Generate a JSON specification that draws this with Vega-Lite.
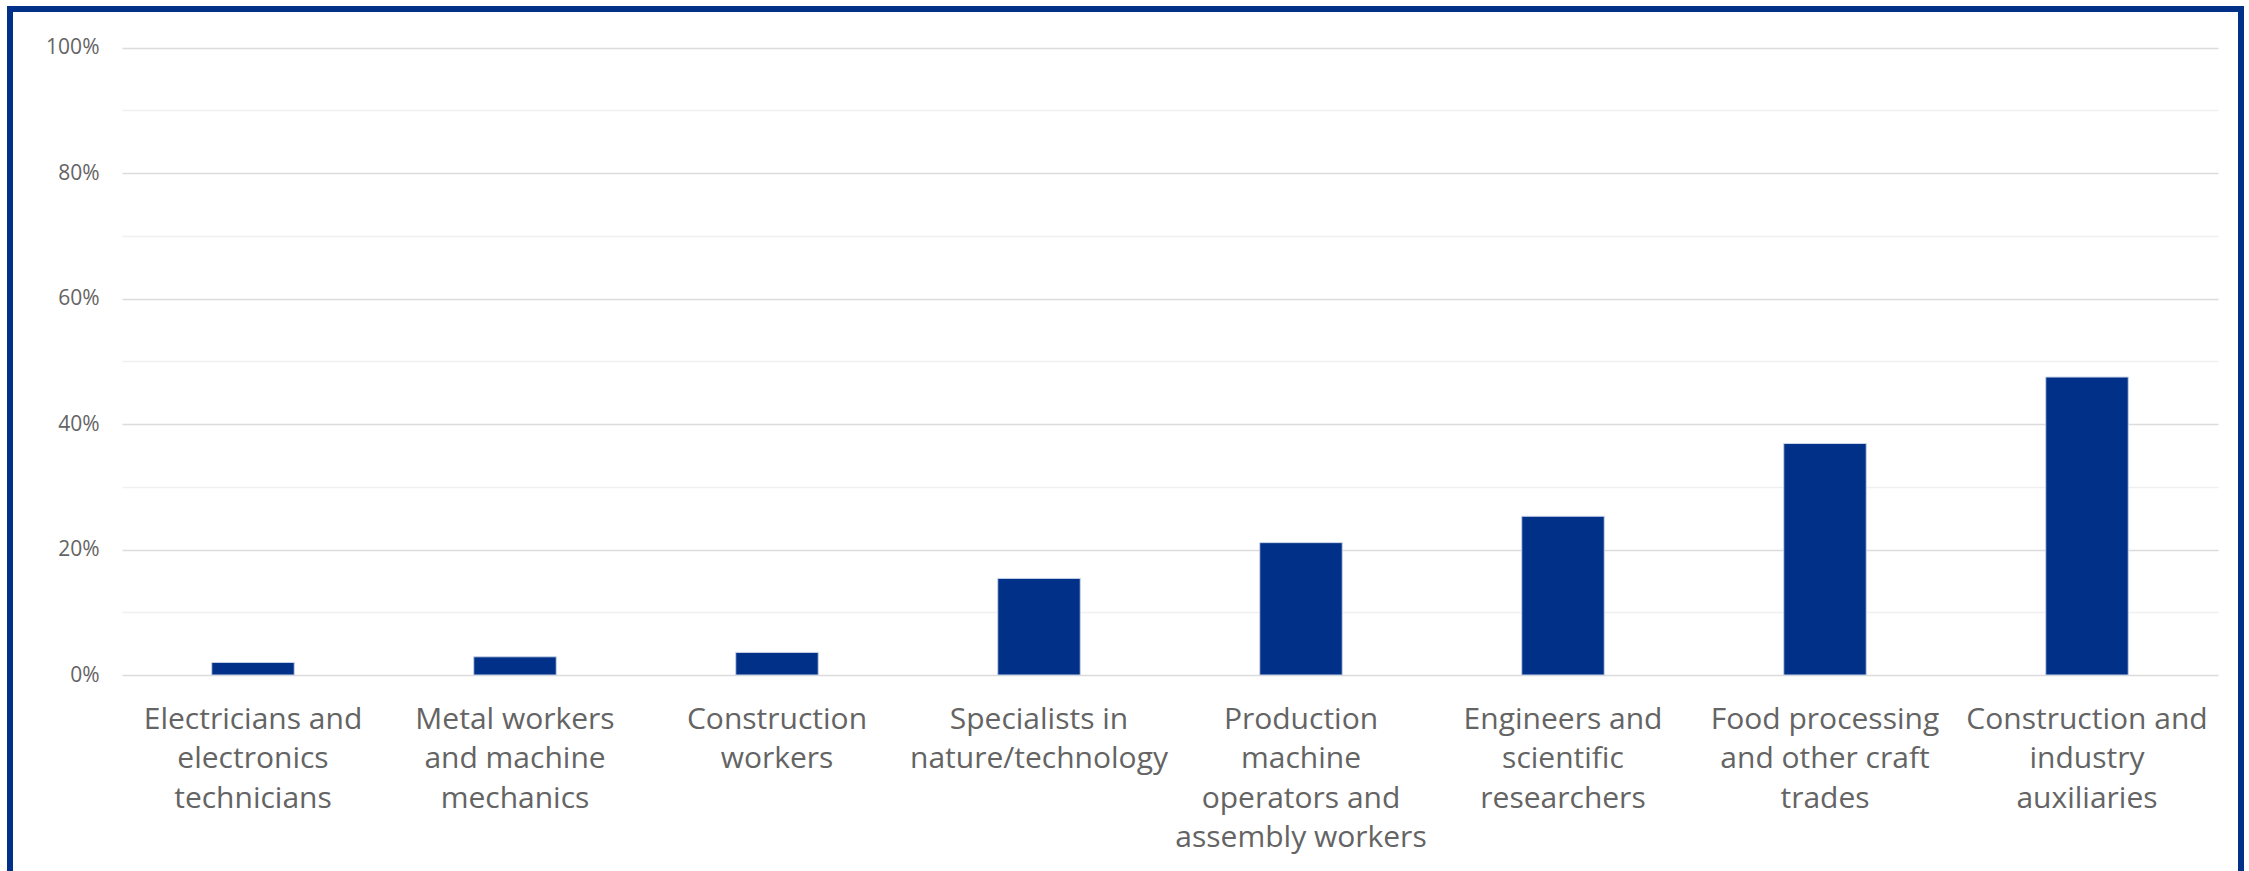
{
  "$schema": "https://vega.github.io/schema/vega-lite/v6.json",
  "autosize": {"type": "none"},
  "padding": {"left": 10, "top": 9, "right": 8, "bottom": 0},
  "width": 2231,
  "height": 862,
  "background": "#ffffff",
  "config": {
    "view": {"stroke": "#003087", "strokeWidth": 6, "strokeDash": [3093, 2231, 862], "strokeCap": "square", "fill": "#ffffff"},
    "font": "Open Sans"
  },
  "data": {
    "values": [
      {"occupation": "Electricians and|electronics|technicians", "share": 0.020},
      {"occupation": "Metal workers|and machine|mechanics", "share": 0.029},
      {"occupation": "Construction|workers", "share": 0.036},
      {"occupation": "Specialists in|nature/technology", "share": 0.154},
      {"occupation": "Production|machine|operators and|assembly workers", "share": 0.211},
      {"occupation": "Engineers and|scientific|researchers", "share": 0.253},
      {"occupation": "Food processing|and other craft|trades", "share": 0.369},
      {"occupation": "Construction and|industry|auxiliaries", "share": 0.475}
    ]
  },
  "mark": {"type": "bar", "color": "#003087", "stroke": "#c9d3e8", "strokeWidth": 1, "width": {"band": 0.315}},
  "encoding": {
    "x": {
      "field": "occupation",
      "type": "nominal",
      "sort": null,
      "scale": {"range": [112, 2208], "paddingInner": 0, "paddingOuter": 0},
      "axis": {
        "title": null,
        "orient": "bottom",
        "offset": -196,
        "domain": false,
        "ticks": false,
        "tickSize": 0,
        "grid": false,
        "labelAngle": 0,
        "labelPadding": 29,
        "labelFontSize": 30,
        "labelLineHeight": 39.6,
        "labelColor": "#646464",
        "labelFont": "Open Sans",
        "labelLimit": 0,
        "labelOverlap": false,
        "labelExpr": "split(datum.label, '|')"
      }
    },
    "y": {
      "field": "share",
      "type": "quantitative",
      "scale": {"domain": [0, 1], "nice": false, "range": [666, 38.7]},
      "axis": {
        "title": null,
        "orient": "left",
        "offset": -112,
        "domain": false,
        "ticks": false,
        "tickSize": 0,
        "values": [0, 0.1, 0.2, 0.3, 0.4, 0.5, 0.6, 0.7, 0.8, 0.9, 1],
        "format": ".0%",
        "labelExpr": "round(datum.value * 10) % 2 == 0 ? datum.label : ''",
        "labelPadding": 23,
        "labelFontSize": 21,
        "labelColor": "#646464",
        "labelFont": "Open Sans",
        "grid": true,
        "gridColor": {"condition": {"test": "round(datum.value * 10) % 2 == 0", "value": "#dcdcdc"}, "value": "#f0f0f0"},
        "gridWidth": 1.4
      }
    }
  }
}
